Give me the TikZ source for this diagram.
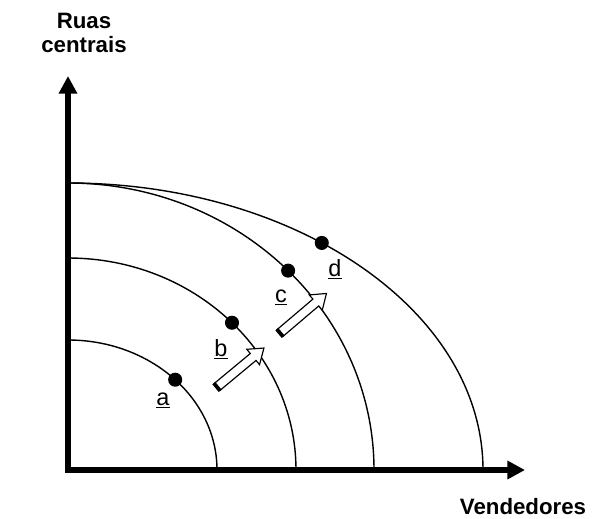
\documentclass[tikz,border=0pt]{standalone}
\usepackage{fontspec}
\setmainfont{Liberation Sans}
\usepackage{tikz}
\usetikzlibrary{positioning,arrows.meta}

\begin{document}
\begin{tikzpicture}[x=0.03cm, y=0.03cm,
    axis/.style={line width=4.5pt, line join=miter,
                 {Triangle[length=15pt,width=15pt]}-{Triangle[length=15pt,width=15pt]}},
    frontier/.style={line width=1.2pt},
    dot/.style={circle, fill=black, inner sep=0pt, minimum size=12pt},
    lbl/.style={font=\fontsize{20}{24}\selectfont},
    ttl/.style={font=\fontsize{19}{21}\selectfont\bfseries, align=center},
    blockarrow/.style={draw, fill=white, line width=1pt, line join=miter},
    arrowtail/.style={line width=3.2pt}]

  \useasboundingbox (-68,-48) rectangle (530,470);

  %% ─── Axes ───────────────────────────────────────────────────────────────
  \coordinate (O) at (0,0);
  \coordinate (ytip) at (0,394);
  \coordinate (xtip) at (457,0);
  \draw[axis] (ytip) -- (O) -- (xtip);

  \node[ttl] (ruas) at (16,437) {Ruas\\centrais};
  \node[ttl] (vend) at (455,-37) {Vendedores};

  %% ─── Frontiers ──────────────────────────────────────────────────────────
  \draw[frontier] (0,130) arc[start angle=90, end angle=0, x radius=149, y radius=130];
  \draw[frontier] (0,212) arc[start angle=90, end angle=0, x radius=228, y radius=212];
  \draw[frontier] (0,287) arc[start angle=90, end angle=0, x radius=306, y radius=287];
  \draw[frontier] (0,287) arc[start angle=90, end angle=0, x radius=415, y radius=287];

  %% ─── Points ─────────────────────────────────────────────────────────────
  \node[dot] (pa) at ({149*cos(44)},{130*sin(44)}) {};
  \node[dot] (pb) at ({228*cos(44)},{212*sin(44)}) {};
  \node[dot] (pc) at ({306*cos(44)},{287*sin(44)}) {};
  \node[dot] (pd) at ({415*cos(52.3)},{287*sin(52.3)}) {};

  \node[lbl] (la) at (95,70)   {\underline{a}};
  \node[lbl] (lb) at (153,121) {\underline{b}};
  \node[lbl] (lc) at (213,173) {\underline{c}};
  \node[lbl] (ld) at (267,201) {\underline{d}};

  %% ─── Shift arrows ───────────────────────────────────────────────────────
  \begin{scope}[shift={(149,83)}, rotate=39.7]
    \draw[blockarrow] (0,-4.5) -- (47,-4.5) -- (47,-10) -- (61,0) -- (47,10) -- (47,4.5) -- (0,4.5) -- cycle;
    \draw[arrowtail] (0,-5) -- (0,5);
  \end{scope}
  \begin{scope}[shift={(212,137)}, rotate=40.4]
    \draw[blockarrow] (0,-4.5) -- (47,-4.5) -- (47,-10) -- (61,0) -- (47,10) -- (47,4.5) -- (0,4.5) -- cycle;
    \draw[arrowtail] (0,-5) -- (0,5);
  \end{scope}

\end{tikzpicture}
\end{document}
